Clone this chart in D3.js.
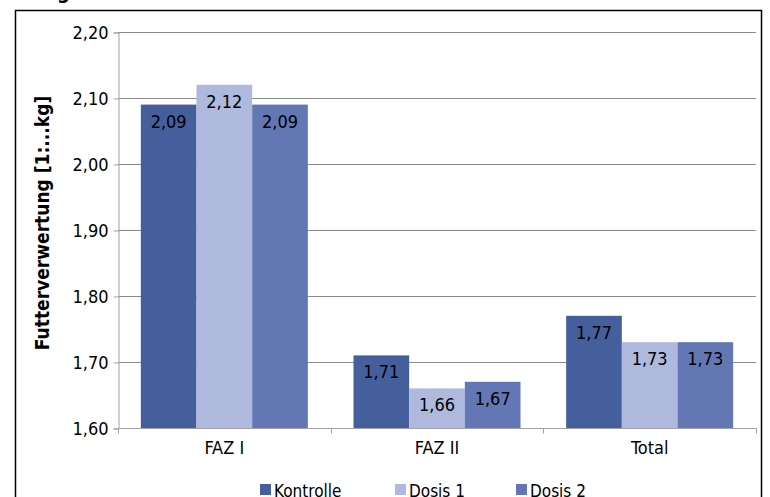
<!DOCTYPE html>
<html>
<head>
<meta charset="utf-8">
<script src="https://cdn.jsdelivr.net/npm/d3@7"></script>
<style>
  html, body { margin: 0; padding: 0; background: #fff; }
  svg { display: block; }
  text { font-family: "DejaVu Sans Condensed", "Liberation Sans Narrow", "Open Sans", sans-serif; }
</style>
</head>
<body>
<svg id="chart" width="770" height="497"></svg>
<script>
// Feed conversion per phase and treatment
const categories = ["FAZ I", "FAZ II", "Total"];
const seriesNames = ["Kontrolle", "Dosis 1", "Dosis 2"];
const kontrolle = [2.09, 1.71, 1.77];
const dosis1 = [2.12, 1.66, 1.73];
const dosis2 = [2.09, 1.67, 1.73];
const yTicks = [1.60, 1.70, 1.80, 1.90, 2.00, 2.10, 2.20];
const seriesColors = ["#455E9C", "#AEB9DD", "#6277B4"];
const yTitle = "Futterverwertung [1:...kg]";

const seriesValues = [kontrolle, dosis1, dosis2];
const fmt = v => d3.format(".2f")(v).replace(".", ",");

const svg = d3.select("#chart");

// outer frame
svg.append("rect")
  .attr("x", 15.5).attr("y", 10.5)
  .attr("width", 746).attr("height", 500)
  .attr("fill", "none").attr("stroke", "#000").attr("stroke-width", 1.5);

// heading above the frame, mostly outside the page
svg.append("text")
  .attr("x", 57).attr("y", -1)
  .attr("font-weight", "bold").attr("font-size", 20)
  .text("g");

const plot = { left: 118, right: 756, top: 32, bottom: 428 };

const x = d3.scaleBand().domain(categories).range([plot.left, plot.right]).paddingInner(0).paddingOuter(0);
const xs = d3.scaleBand().domain(seriesNames).range([0, x.bandwidth()]).paddingOuter(0.41).paddingInner(0);
const y = d3.scaleLinear().domain([1.60, 2.20]).range([plot.bottom, plot.top]);

// horizontal gridlines
svg.append("g")
  .selectAll("line")
  .data(yTicks.slice(1))
  .join("line")
  .attr("x1", plot.left).attr("x2", plot.right)
  .attr("y1", d => Math.round(y(d)) + 0.5).attr("y2", d => Math.round(y(d)) + 0.5)
  .attr("stroke", "#8c8c8c").attr("stroke-width", 1);

// bars
const groups = svg.append("g")
  .selectAll("g")
  .data(categories)
  .join("g")
  .attr("transform", d => `translate(${x(d)},0)`);

groups.selectAll("rect")
  .data((c, i) => seriesNames.map((s, j) => ({ s, j, v: seriesValues[j][i] })))
  .join("rect")
  .attr("x", d => xs(d.s))
  .attr("width", xs.bandwidth())
  .attr("y", d => y(d.v))
  .attr("height", d => y(1.60) - y(d.v))
  .attr("fill", d => seriesColors[d.j]);

groups.selectAll("text")
  .data((c, i) => seriesNames.map((s, j) => ({ s, j, v: seriesValues[j][i] })))
  .join("text")
  .attr("x", d => xs(d.s) + xs.bandwidth() / 2)
  .attr("y", d => y(d.v) + 23)
  .attr("text-anchor", "middle")
  .attr("font-size", 18)
  .attr("fill", "#000")
  .text(d => fmt(d.v));

// y axis
const yAxis = svg.append("g")
  .attr("transform", `translate(${plot.left + 0.5},0.5)`)
  .call(d3.axisLeft(y).tickValues(yTicks).tickFormat(fmt).tickSize(5).tickPadding(5));
yAxis.select(".domain").attr("stroke", "#a0a0a0");
yAxis.selectAll(".tick line").attr("stroke", "#a0a0a0");
yAxis.selectAll(".tick text").attr("font-size", 18).attr("fill", "#000").attr("dy", "0.35em");

// x axis with ticks at category boundaries
const xAxisG = svg.append("g").attr("transform", `translate(0,${plot.bottom + 0.5})`);
xAxisG.append("line")
  .attr("x1", plot.left).attr("x2", plot.right + 1)
  .attr("stroke", "#a0a0a0");
xAxisG.selectAll("line.tk")
  .data(categories.map(c => x(c)).concat([x(categories[categories.length - 1]) + x.bandwidth()]))
  .join("line").attr("class", "tk")
  .attr("x1", d => Math.round(d) + 0.5).attr("x2", d => Math.round(d) + 0.5)
  .attr("y1", 0).attr("y2", 5)
  .attr("stroke", "#a0a0a0");
xAxisG.selectAll("text")
  .data(categories)
  .join("text")
  .attr("x", d => x(d) + x.bandwidth() / 2)
  .attr("y", 25)
  .attr("text-anchor", "middle")
  .attr("font-size", 18)
  .attr("fill", "#000")
  .text(d => d);

// y axis title
svg.append("text")
  .attr("transform", `translate(49,${(plot.top + plot.bottom) / 2 - 7}) rotate(-90)`)
  .attr("text-anchor", "middle")
  .attr("font-weight", "bold")
  .attr("font-size", 19)
  .text(yTitle);

// legend
const legendX = [260, 395, 516];
const legend = svg.append("g")
  .selectAll("g")
  .data(seriesNames)
  .join("g")
  .attr("transform", (d, i) => `translate(${legendX[i]},484)`);
legend.append("rect")
  .attr("width", 11).attr("height", 11)
  .attr("fill", (d, i) => seriesColors[i]);
legend.append("text")
  .attr("x", 14).attr("y", 13)
  .attr("font-size", 17)
  .text(d => d);
</script>
</body>
</html>
